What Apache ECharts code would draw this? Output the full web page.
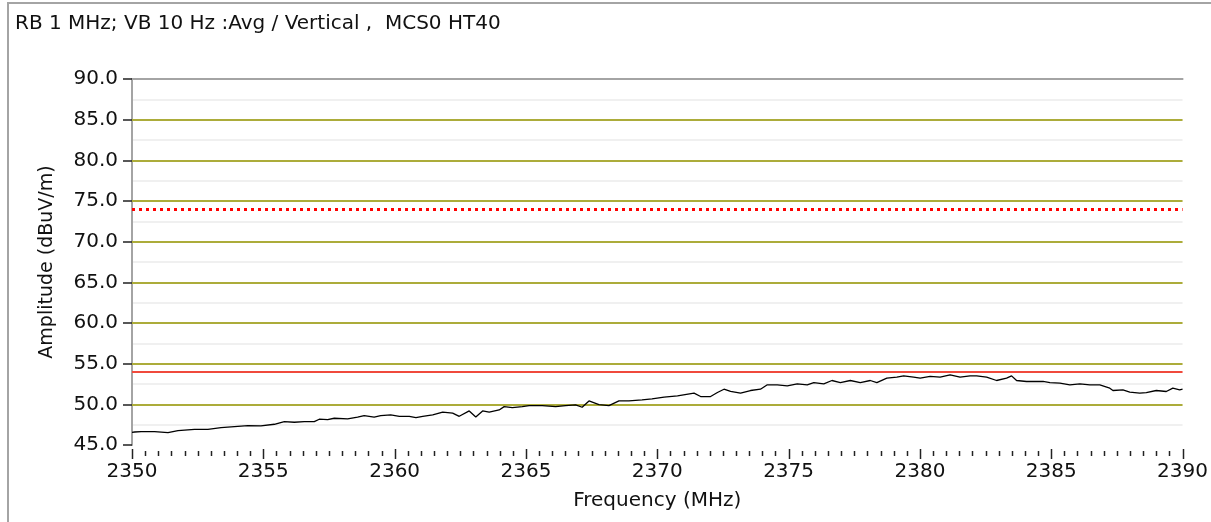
<!DOCTYPE html>
<html>
<head>
<meta charset="utf-8">
<title>RB 1 MHz; VB 10 Hz :Avg / Vertical , MCS0 HT40</title>
<script src="https://cdn.jsdelivr.net/npm/echarts@6/dist/echarts.min.js"></script>
<style>
  html, body { margin: 0; padding: 0; background: #ffffff; overflow: hidden; }
  #chart { width: 1211px; height: 522px; }
</style>
</head>
<body>
<div id="chart"></div>
<script>
// Sweep trace: frequency (MHz) and measured amplitude (dBuV/m)
const freqMHz = [
  2350.00, 2350.10, 2350.35, 2350.86, 2351.37, 2351.75, 2352.38, 2352.89, 2353.39, 2353.90,
  2354.41, 2354.91, 2355.42, 2355.80, 2356.18, 2356.56, 2356.94, 2357.13, 2357.45, 2357.70,
  2358.21, 2358.59, 2358.84, 2359.22, 2359.47, 2359.85, 2360.18, 2360.56, 2360.81, 2361.07,
  2361.45, 2361.83, 2362.21, 2362.46, 2362.84, 2363.09, 2363.35, 2363.60, 2363.98, 2364.17,
  2364.48, 2364.86, 2365.12, 2365.62, 2366.13, 2366.51, 2366.89, 2367.14, 2367.40, 2367.78,
  2368.16, 2368.54, 2368.92, 2369.42, 2369.80, 2370.26, 2370.77, 2371.40, 2371.65, 2372.03,
  2372.29, 2372.54, 2372.79, 2373.17, 2373.55, 2373.93, 2374.19, 2374.57, 2374.95, 2375.33,
  2375.71, 2375.96, 2376.34, 2376.65, 2376.97, 2377.35, 2377.73, 2378.11, 2378.36, 2378.74,
  2379.12, 2379.38, 2379.76, 2380.01, 2380.39, 2380.77, 2381.15, 2381.53, 2381.91, 2382.16,
  2382.54, 2382.92, 2383.30, 2383.49, 2383.68, 2384.06, 2384.69, 2384.95, 2385.33, 2385.71,
  2386.09, 2386.47, 2386.85, 2387.23, 2387.35, 2387.73, 2387.99, 2388.37, 2388.62, 2389.00,
  2389.38, 2389.63, 2389.89, 2390.00
];
const amplitude = [
  46.56, 46.60, 46.64, 46.64, 46.52, 46.77, 46.93, 46.93, 47.14, 47.26,
  47.38, 47.34, 47.55, 47.88, 47.80, 47.88, 47.88, 48.17, 48.13, 48.29,
  48.21, 48.42, 48.62, 48.42, 48.62, 48.70, 48.53, 48.53, 48.37, 48.53,
  48.70, 49.03, 48.91, 48.53, 49.19, 48.45, 49.19, 49.03, 49.31, 49.72,
  49.60, 49.72, 49.85, 49.85, 49.72, 49.85, 49.93, 49.64, 50.42, 49.97,
  49.85, 50.42, 50.42, 50.55, 50.67, 50.88, 51.04, 51.37, 50.96, 50.96,
  51.45, 51.86, 51.58, 51.37, 51.70, 51.86, 52.40, 52.40, 52.27, 52.52,
  52.40, 52.68, 52.52, 52.93, 52.68, 52.93, 52.68, 52.93, 52.68, 53.22,
  53.34, 53.50, 53.34, 53.22, 53.43, 53.34, 53.63, 53.34, 53.50, 53.50,
  53.34, 52.93, 53.22, 53.50, 52.93, 52.81, 52.81, 52.68, 52.60, 52.40,
  52.52, 52.40, 52.40, 51.99, 51.70, 51.78, 51.50, 51.37, 51.45, 51.70,
  51.58, 51.99, 51.78, 51.86
];

// Limit lines (dBuV/m)
const peakLimit = 74;
const avgLimit = 54;

// Axis ranges and tick steps
const freqRange = [2350, 2390];
const freqStep = 5;
const freqMinorStep = 0.5;
const ampRange = [45, 90];
const ampStep = 5;
// Olive reference grid levels
const gridLevels = [50, 55, 60, 65, 70, 75, 80, 85];

const titleText = 'RB 1 MHz; VB 10 Hz :Avg / Vertical ,  MCS0 HT40';
const xName = 'Frequency (MHz)';
const yName = 'Amplitude (dBuV/m)';

const FONT = 'DejaVu Sans';
const TEXT = '#111111';
const FRAME = '#a4a4a4';
const TICK = '#222222';

const chart = echarts.init(document.getElementById('chart'), null, { renderer: 'canvas' });

const trace = freqMHz.map((f, i) => [f, amplitude[i]]);

const frameRect = {
  id: 'frame',
  type: 'rect',
  shape: { x: 8, y: 3, width: 1240, height: 560 },
  style: { fill: 'none', stroke: FRAME, lineWidth: 2 },
  silent: true,
  z: -10
};

chart.setOption({
  animation: false,
  backgroundColor: '#ffffff',
  graphic: [frameRect],
  title: {
    text: titleText,
    left: 15,
    top: 14,
    padding: 0,
    textStyle: { fontFamily: FONT, fontSize: 20, fontWeight: 'normal', color: TEXT }
  },
  grid: { left: 132, right: 21, top: 79, bottom: 77, containLabel: false },
  xAxis: [
    {
      // frequency axis: labels and name; its tick marks are added below
      type: 'value',
      min: freqRange[0],
      max: freqRange[1],
      interval: freqStep,
      offset: 5,
      name: xName,
      nameLocation: 'middle',
      nameGap: 41,
      nameTextStyle: { fontFamily: FONT, fontSize: 20, color: TEXT },
      axisLine: { show: false },
      axisTick: { show: false },
      axisLabel: {
        margin: 12, fontFamily: FONT, fontSize: 20, color: TEXT,
        formatter: v => String(v)
      },
      splitLine: { show: false }
    },
    {
      // top frame line
      type: 'value',
      position: 'top',
      min: freqRange[0],
      max: freqRange[1],
      axisLine: { show: true, lineStyle: { color: FRAME, width: 2 } },
      axisTick: { show: false },
      axisLabel: { show: false },
      splitLine: { show: false }
    }
  ],
  yAxis: {
    type: 'value',
    min: ampRange[0],
    max: ampRange[1],
    interval: ampStep,
    name: yName,
    nameLocation: 'middle',
    nameGap: 75,
    nameTextStyle: { fontFamily: FONT, fontSize: 19, color: TEXT },
    axisLine: { show: true, lineStyle: { color: FRAME, width: 2 } },
    axisTick: { show: true, inside: false, length: 9, lineStyle: { color: TICK, width: 1.5 } },
    axisLabel: {
      margin: 14,
      fontFamily: FONT,
      fontSize: 20,
      color: TEXT,
      formatter: v => v.toFixed(1)
    },
    splitLine: { show: false },
    minorTick: { show: false, splitNumber: 2 },
    minorSplitLine: { show: true, lineStyle: { color: '#f0f0f0', width: 2 } }
  },
  series: [
    {
      name: 'grid',
      type: 'line',
      data: [],
      silent: true,
      markLine: {
        silent: true,
        symbol: 'none',
        label: { show: false },
        lineStyle: { color: '#acac3a', width: 2, type: 'solid' },
        data: gridLevels.map(v => ({ yAxis: v }))
      },
      z: 1
    },
    {
      name: 'limits',
      type: 'line',
      data: [],
      silent: true,
      markLine: {
        silent: true,
        symbol: 'none',
        label: { show: false },
        data: [
          { yAxis: peakLimit, lineStyle: { color: '#ff0000', width: 3, type: [3, 4] } },
          { yAxis: avgLimit, lineStyle: { color: '#f04a3c', width: 2, type: 'solid' } }
        ]
      },
      z: 2
    },
    {
      name: 'Avg',
      type: 'line',
      data: trace,
      showSymbol: false,
      symbol: 'none',
      lineStyle: { color: '#000000', width: 1.3 },
      z: 5
    }
  ]
});

// Frequency tick marks every 0.5 MHz, placed through the axis scales:
// long marks at the labelled 5 MHz steps, short ones in between.
const perMajor = Math.round(freqStep / freqMinorStep);
const baseY = chart.convertToPixel({ yAxisIndex: 0 }, ampRange[0]);
const tickEls = [];
for (let k = 0; freqRange[0] + k * freqMinorStep <= freqRange[1] + 1e-9; k++) {
  const f = freqRange[0] + k * freqMinorStep;
  const x = Math.round(chart.convertToPixel({ xAxisIndex: 0 }, f)) + 0.5;
  const major = k % perMajor === 0;
  tickEls.push({
    id: 'tick' + k,
    type: 'line',
    silent: true,
    shape: { x1: x, y1: baseY + (major ? 4 : 6), x2: x, y2: baseY + (major ? 14 : 11) },
    style: { stroke: TICK, lineWidth: 1.5 },
    z: 10
  });
}
chart.setOption({ graphic: [frameRect].concat(tickEls) });
</script>
</body>
</html>
